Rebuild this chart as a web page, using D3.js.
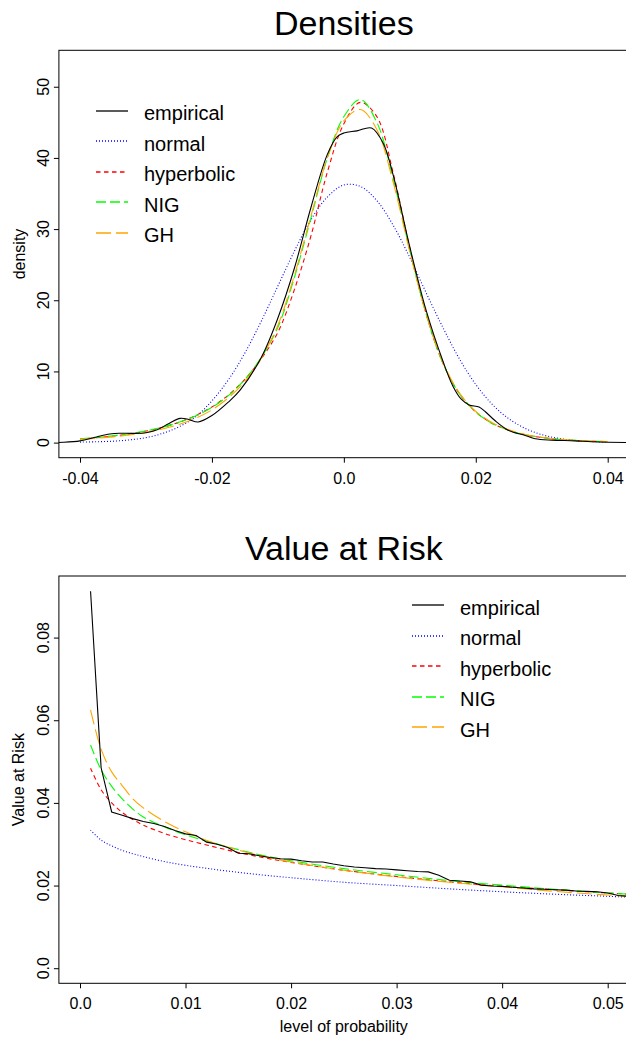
<!DOCTYPE html>
<html>
<head>
<meta charset="utf-8">
<script src="https://cdn.jsdelivr.net/npm/d3@7"></script>
<style>
  html, body { margin: 0; padding: 0; background: #fff; }
  svg { display: block; font-family: "Liberation Sans", Arial, Helvetica, sans-serif; }
</style>
</head>
<body>
<svg id="chart" width="626" height="1040"></svg>
<script>
// ---------- Panel 1: densities ----------
const seriesNames = ["empirical", "normal", "hyperbolic", "NIG", "GH"];
const seriesColors = ["#000000", "#0000ff", "#ff0000", "#00ff00", "#ffa500"];
const seriesDash = [null, "1,2", "4.5,3.5", "10,4", "15,5"];

const densXTicks = [-0.04, -0.02, 0.0, 0.02, 0.04];
const densXTickLabels = ["-0.04", "-0.02", "0.0", "0.02", "0.04"];
const densYTicks = [0, 10, 20, 30, 40, 50];
const densYTickLabels = ["0", "10", "20", "30", "40", "50"];

const densGrid = [-0.04, -0.0375, -0.035, -0.0325, -0.03, -0.0275, -0.025, -0.0225, -0.02, -0.0175,
  -0.015, -0.0125, -0.01, -0.0075, -0.005, -0.0025, 0, 0.0025, 0.005, 0.0075, 0.01, 0.0125,
  0.015, 0.0175, 0.02, 0.0225, 0.025, 0.0275, 0.03, 0.0325, 0.035, 0.0375, 0.04];

const densNormal = [0.07, 0.12, 0.2, 0.38, 0.7, 1.29, 2.22, 3.6, 5.87, 8.83, 12.6, 17.1, 22.0, 26.9,
  31.3, 34.5, 36.2, 36.0, 34.0, 30.5, 26.0, 21.0, 16.2, 11.8, 8.17, 5.37, 3.36, 1.99, 1.12, 0.6,
  0.31, 0.15, 0.07];
const densHyperbolic = [0.5, 0.68, 0.92, 1.22, 1.62, 2.15, 2.85, 3.8, 5.0, 6.7, 8.9, 11.8, 15.5, 21.5,
  29.0, 38.0, 44.8, 47.8, 45.8, 37.8, 27.3, 18.0, 11.2, 6.9, 4.3, 2.7, 1.75, 1.1, 0.72, 0.47,
  0.31, 0.2, 0.13];
const densNIG = [0.55, 0.72, 0.95, 1.25, 1.64, 2.16, 2.85, 3.75, 4.95, 6.6, 8.9, 12.0, 16.2, 23.2,
  31.5, 40.0, 45.8, 48.2, 45.0, 37.0, 27.0, 18.0, 11.2, 6.9, 4.3, 2.7, 1.75, 1.1, 0.72, 0.47,
  0.31, 0.2, 0.13];
const densGH = [0.45, 0.6, 0.8, 1.07, 1.42, 1.9, 2.55, 3.4, 4.6, 6.3, 8.6, 11.9, 16.5, 23.5,
  31.8, 40.0, 45.2, 46.8, 44.0, 36.5, 26.8, 18.0, 11.3, 7.0, 4.4, 2.8, 1.8, 1.15, 0.75, 0.5,
  0.33, 0.22, 0.15];

const empDensX = [-0.046, -0.0425, -0.04, -0.0375, -0.0355, -0.034, -0.032, -0.03, -0.0283, -0.0265,
  -0.0248, -0.0235, -0.0221, -0.02, -0.0175, -0.0157, -0.0125, -0.01, -0.0075, -0.005, -0.0025,
  -0.001, 0, 0.002, 0.0042, 0.006, 0.0075, 0.01, 0.0125, 0.015, 0.0165, 0.0178, 0.019, 0.0205,
  0.0215, 0.0229, 0.025, 0.0275, 0.029, 0.0315, 0.035, 0.0375, 0.04, 0.046];
const empDensY = [0.0, 0.05, 0.25, 0.8, 1.2, 1.32, 1.3, 1.38, 1.8, 2.7, 3.4, 3.25, 2.9, 3.8, 5.7, 7.4,
  12.0, 17.5, 24.5, 33.0, 40.5, 43.0, 43.5, 43.8, 44.2, 42.0, 37.5, 27.5, 18.5, 11.5, 8.0, 6.1,
  5.3, 5.0, 4.3, 3.1, 1.7, 1.0, 0.55, 0.35, 0.25, 0.12, 0.05, 0.0];

// ---------- Panel 2: value at risk ----------
const varXTicks = [0.0, 0.01, 0.02, 0.03, 0.04, 0.05];
const varXTickLabels = ["0.0", "0.01", "0.02", "0.03", "0.04", "0.05"];
const varYTicks = [0.0, 0.02, 0.04, 0.06, 0.08];
const varYTickLabels = ["0.0", "0.02", "0.04", "0.06", "0.08"];

const empVarP = [0.001, 0.002, 0.003, 0.004, 0.005, 0.006, 0.007, 0.008, 0.009, 0.010, 0.011, 0.012,
  0.013, 0.014, 0.015, 0.016, 0.017, 0.018, 0.019, 0.020, 0.021, 0.022, 0.023, 0.024, 0.025,
  0.026, 0.027, 0.028, 0.029, 0.030, 0.031, 0.032, 0.033, 0.034, 0.035, 0.036, 0.037, 0.038,
  0.039, 0.040, 0.041, 0.042, 0.043, 0.044, 0.045, 0.046, 0.047, 0.048, 0.049, 0.050, 0.051,
  0.052, 0.053];
const empVar = [0.0912, 0.0485, 0.0378, 0.0370, 0.0362, 0.0355, 0.0350, 0.0343, 0.0333, 0.0325,
  0.0321, 0.0305, 0.0300, 0.0292, 0.0278, 0.0277, 0.0272, 0.0268, 0.0265, 0.0264, 0.0260,
  0.0257, 0.0257, 0.0252, 0.0248, 0.0245, 0.0243, 0.0241, 0.0240, 0.0238, 0.0236, 0.0234,
  0.0233, 0.0225, 0.0213, 0.0211, 0.0209, 0.0201, 0.0199, 0.0198, 0.0196, 0.0194, 0.0192,
  0.0191, 0.0190, 0.0189, 0.0187, 0.0186, 0.0185, 0.0182, 0.0176, 0.0174, 0.0173];

const fitVarP = [0.001, 0.002, 0.003, 0.004, 0.005, 0.006, 0.008, 0.01, 0.0125, 0.015, 0.0175, 0.02,
  0.025, 0.03, 0.035, 0.04, 0.045, 0.05, 0.055];
const varNormal = [0.0334, 0.0310, 0.0296, 0.0285, 0.0277, 0.0270, 0.0258, 0.0249, 0.0240, 0.0232,
  0.0225, 0.0219, 0.0208, 0.0200, 0.0192, 0.0185, 0.0179, 0.0174, 0.0169];
const varHyperbolic = [0.0484, 0.0432, 0.0400, 0.0377, 0.0360, 0.0346, 0.0326, 0.0311, 0.0295, 0.0280,
  0.0267, 0.0256, 0.0237, 0.0222, 0.0209, 0.0198, 0.0190, 0.0182, 0.0175];
const varNIG = [0.0540, 0.0480, 0.0440, 0.0410, 0.0385, 0.0366, 0.0342, 0.0323, 0.0304, 0.0287,
  0.0272, 0.0260, 0.0241, 0.0226, 0.0212, 0.0201, 0.0191, 0.0182, 0.0175];
const varGH = [0.0625, 0.0530, 0.0475, 0.0442, 0.0410, 0.0388, 0.0355, 0.0330, 0.0305, 0.0286,
  0.0270, 0.0257, 0.0237, 0.0221, 0.0208, 0.0197, 0.0186, 0.0177, 0.0170];

// ---------- drawing ----------
const svg = d3.select("#chart");
const TICK_FONT = 16, LEGEND_FONT = 20, TITLE_FONT = 34;
const LEFT = 58.9, RIGHT = 628.8;

function panel(cfg) {
  const g = svg.append("g");
  const x = d3.scaleLinear().domain(cfg.xDomain).range([LEFT, RIGHT]);
  const y = d3.scaleLinear().domain(cfg.yDomain).range([cfg.bottom, cfg.top]);

  const clipId = "clip" + cfg.id;
  svg.append("clipPath").attr("id", clipId).append("rect")
    .attr("x", LEFT).attr("y", cfg.top).attr("width", RIGHT - LEFT).attr("height", cfg.bottom - cfg.top);

  g.append("text").attr("x", (LEFT + RIGHT) / 2).attr("y", cfg.titleY)
    .attr("text-anchor", "middle").attr("font-size", TITLE_FONT).text(cfg.title);

  const xAxis = d3.axisBottom(x).tickValues(cfg.xTicks)
    .tickFormat((d, i) => cfg.xTickLabels[i]).tickSize(5).tickPadding(9.5).tickSizeOuter(0);
  const gx = g.append("g").attr("transform", `translate(0,${cfg.bottom})`).call(xAxis);
  gx.select(".domain").remove();
  gx.selectAll("line").attr("stroke", "#000");
  gx.selectAll("text").attr("font-size", TICK_FONT).attr("font-family", null).attr("fill", "#000");

  const yAxis = d3.axisLeft(y).tickValues(cfg.yTicks)
    .tickFormat((d, i) => cfg.yTickLabels[i]).tickSize(5).tickSizeOuter(0);
  const gy = g.append("g").attr("transform", `translate(${LEFT},0)`).call(yAxis);
  gy.select(".domain").remove();
  gy.selectAll("line").attr("stroke", "#000");
  gy.selectAll("text").remove();
  cfg.yTicks.forEach((v, i) => {
    const yy = y(v);
    g.append("text").attr("x", 49.5).attr("y", yy)
      .attr("transform", `rotate(-90,49.5,${yy})`)
      .attr("text-anchor", "middle").attr("font-size", TICK_FONT).text(cfg.yTickLabels[i]);
  });

  const cy = (cfg.top + cfg.bottom) / 2;
  g.append("text").attr("x", 24.5).attr("y", cy).attr("transform", `rotate(-90,24.5,${cy})`)
    .attr("text-anchor", "middle").attr("font-size", TICK_FONT).text(cfg.yLabel);
  if (cfg.xLabel) {
    g.append("text").attr("x", (LEFT + RIGHT) / 2).attr("y", cfg.xLabelY)
      .attr("text-anchor", "middle").attr("font-size", TICK_FONT).text(cfg.xLabel);
  }

  const lg = g.append("g").attr("clip-path", `url(#${clipId})`);
  cfg.series.forEach(s => {
    const line = d3.line().x(d => x(d[0])).y(d => y(d[1])).curve(s.curve);
    lg.append("path").datum(d3.zip(s.xs, s.ys))
      .attr("d", line).attr("fill", "none")
      .attr("stroke", seriesColors[s.k]).attr("stroke-width", 1.1)
      .attr("stroke-dasharray", seriesDash[s.k]);
  });

  g.append("rect").attr("x", LEFT).attr("y", cfg.top).attr("width", RIGHT - LEFT)
    .attr("height", cfg.bottom - cfg.top).attr("fill", "none").attr("stroke", "#000").attr("stroke-width", 1);

  seriesNames.forEach((name, i) => {
    const by = cfg.legendY + i * 30.5;
    const ly = Math.round(by - 9.3);
    g.append("line").attr("x1", cfg.legendX).attr("x2", cfg.legendX + 32)
      .attr("y1", ly).attr("y2", ly)
      .attr("stroke", seriesColors[i]).attr("stroke-width", 1.3).attr("stroke-dasharray", seriesDash[i]);
    g.append("text").attr("x", cfg.legendX + 48).attr("y", by)
      .attr("font-size", LEGEND_FONT).text(name);
  });
}

const smooth = d3.curveCatmullRom.alpha(0.5);

panel({
  id: 1, title: "Densities", titleY: 35,
  xDomain: [-0.0432, 0.0432], yDomain: [-2.12, 55.12], top: 50.3, bottom: 457.7,
  xTicks: densXTicks, xTickLabels: densXTickLabels, yTicks: densYTicks, yTickLabels: densYTickLabels,
  yLabel: "density", xLabel: null,
  legendX: 96, legendY: 120,
  series: [
    { k: 1, xs: densGrid, ys: densNormal, curve: smooth },
    { k: 2, xs: densGrid, ys: densHyperbolic, curve: smooth },
    { k: 3, xs: densGrid, ys: densNIG, curve: smooth },
    { k: 4, xs: densGrid, ys: densGH, curve: smooth },
    { k: 0, xs: empDensX, ys: empDensY, curve: smooth }
  ]
});

panel({
  id: 2, title: "Value at Risk", titleY: 560,
  xDomain: [-0.002, 0.052], yDomain: [-0.00365, 0.0949], top: 576, bottom: 983.3,
  xTicks: varXTicks, xTickLabels: varXTickLabels, yTicks: varYTicks, yTickLabels: varYTickLabels,
  yLabel: "Value at Risk", xLabel: "level of probability", xLabelY: 1031.5,
  legendX: 412, legendY: 614.5,
  series: [
    { k: 1, xs: fitVarP, ys: varNormal, curve: smooth },
    { k: 2, xs: fitVarP, ys: varHyperbolic, curve: smooth },
    { k: 3, xs: fitVarP, ys: varNIG, curve: smooth },
    { k: 4, xs: fitVarP, ys: varGH, curve: smooth },
    { k: 0, xs: empVarP, ys: empVar, curve: d3.curveLinear }
  ]
});
</script>
</body>
</html>
